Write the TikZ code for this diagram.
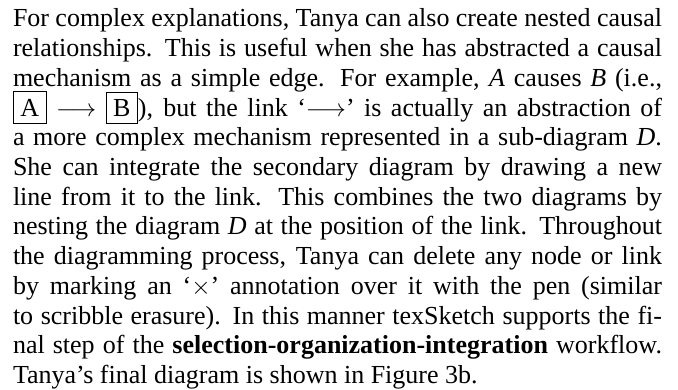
\documentclass[tikz,border=0pt]{standalone}
\usepackage{fontspec}
\setmainfont{Liberation Serif}
\begin{document}
\begin{tikzpicture}[x=1pt,y=1pt,
  textline/.style={anchor=base west,inner sep=0pt,outer sep=0pt,
    font=\fontsize{26}{29.7}\selectfont}]
\useasboundingbox (0,0) rectangle (678,-390);
\setlength{\fboxsep}{6.5pt}
\setlength{\fboxrule}{0.95pt}
\def\lw{649pt}
\def\lx{13}
\node[textline] (l1)  at (\lx,-27)   {\makebox[\lw][s]{For complex explanations, Tanya can also create nested causal}};
\node[textline] (l2)  at (\lx,-56.7) {\makebox[\lw][s]{relationships. This is useful when she has abstracted a causal}};
\node[textline] (l3)  at (\lx,-86.4) {\makebox[\lw][s]{mechanism as a simple edge. For example, \textit{A} causes \textit{B} (i.e.,}};
\node[textline] (l4)  at (\lx,-116.1){\makebox[\lw][s]{\fbox{A} $\longrightarrow$ \fbox{B}), but the link `$\longrightarrow$' is actually an abstraction of}};
\node[textline] (l5)  at (\lx,-145.8){\makebox[\lw][s]{a more complex mechanism represented in a sub-diagram \textit{D}.}};
\node[textline] (l6)  at (\lx,-175.5){\makebox[\lw][s]{She can integrate the secondary diagram by drawing a new}};
\node[textline] (l7)  at (\lx,-205.2){\makebox[\lw][s]{line from it to the link. This combines the two diagrams by}};
\node[textline] (l8)  at (\lx,-234.9){\makebox[\lw][s]{nesting the diagram \textit{D} at the position of the link. Throughout}};
\node[textline] (l9)  at (\lx,-264.6){\makebox[\lw][s]{the diagramming process, Tanya can delete any node or link}};
\node[textline] (l10) at (\lx,-294.3){\makebox[\lw][s]{by marking an `$\times$' annotation over it with the pen (similar}};
\node[textline] (l11) at (\lx,-324)  {\makebox[\lw][s]{to scribble erasure). In this manner texSketch supports the fi-}};
\node[textline] (l12) at (\lx,-353.7){\makebox[\lw][s]{nal step of the \textbf{selection-organization-integration} workflow.}};
\node[textline] (l13) at (\lx,-383.4){Tanya's final diagram is shown in Figure 3b.};
\end{tikzpicture}
\end{document}
